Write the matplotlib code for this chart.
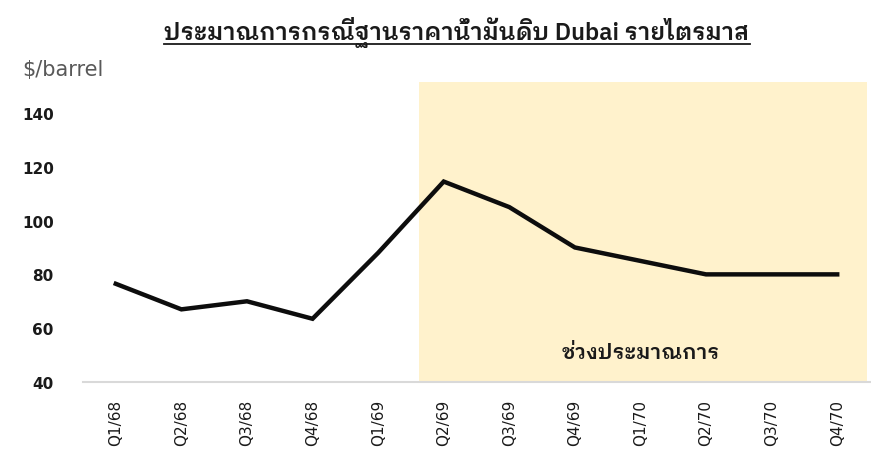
import matplotlib
matplotlib.use('Agg')
import matplotlib.pyplot as plt
from matplotlib import font_manager as fm
from matplotlib.lines import Line2D

quarters = ["Q1/68", "Q2/68", "Q3/68", "Q4/68", "Q1/69", "Q2/69",
            "Q3/69", "Q4/69", "Q1/70", "Q2/70", "Q3/70", "Q4/70"]
price = [76.5, 67, 70, 63.5, 88, 114.5, 105, 90, 85, 80, 80, 80]
yticks = [40, 60, 80, 100, 120, 140]
forecast_start = 4.63
forecast_end = 11.45
title = "ประมาณการกรณีฐานราคาน้ำมันดิบ Dubai รายไตรมาส"
unit_label = "$/barrel"
forecast_label = "ช่วงประมาณการ"

bold_fams = {f.name for f in fm.fontManager.ttflist
             if (isinstance(f.weight, int) and f.weight >= 600) or f.weight in ('bold', 'semibold')}
names = {f.name for f in fm.fontManager.ttflist}
thai = None
for cand in ["IBM Plex Sans Thai Looped", "Noto Sans Thai Looped", "Sarabun",
             "Noto Sans Thai", "IBM Plex Sans Thai"]:
    if cand in bold_fams:
        thai = cand
        break
if thai is None:
    for cand in ["IBM Plex Sans Thai Looped", "Noto Sans Thai Looped", "Sarabun", "Noto Sans Thai"]:
        if cand in names:
            thai = cand
            break
fam = ["DejaVu Sans"] + ([thai] if thai else [])
tfam = ([thai] if thai else []) + ["DejaVu Sans"]
plt.rcParams['font.family'] = fam

fig = plt.figure(figsize=(8.71, 4.77), dpi=100)
ax = fig.add_axes([83/871, 1-383/477, (870-83)/871, 300/477])
x = list(range(len(quarters)))
ax.set_xlim(-0.5, 11.5)
ax.set_ylim(40, 151.5)
ax.axvspan(forecast_start, forecast_end, color='#FFF2CC', zorder=0, lw=0)
ax.plot(x, price, color='#0d0d0d', lw=3.2, solid_joinstyle='miter', zorder=3)
for s in ['top', 'right', 'left']:
    ax.spines[s].set_visible(False)
ax.spines['bottom'].set_color('#d9d9d9')
ax.spines['bottom'].set_linewidth(1.5)
ax.set_yticks(yticks)
ax.set_yticklabels([str(v) for v in yticks], fontsize=11, fontweight='bold', color='#1a1a1a')
ax.set_xticks(x)
ax.set_xticklabels(quarters, rotation=90, fontsize=11, color='#1a1a1a')
ax.tick_params(axis='both', length=0)
ax.tick_params(axis='x', pad=12)
ax.tick_params(axis='y', pad=21)

ax.text(8.0, 51, forecast_label, ha='center', va='center', fontsize=15,
        fontweight='semibold', color='#1a1a1a', zorder=4, family=tfam)

fig.text(22/871, 1-70/477, unit_label, fontsize=15, color='#595959', va='center', ha='left')
t = fig.text(457/871, 1-33/477, title, fontsize=17, fontweight='semibold', color='#1a1a1a',
             ha='center', va='center', family=tfam)
fig.canvas.draw()
bb = t.get_window_extent()
x0, x1 = bb.x0 / fig.bbox.width, bb.x1 / fig.bbox.width
yl = 1 - 45/477
fig.add_artist(Line2D([x0, x1], [yl, yl], transform=fig.transFigure, color='#1a1a1a', lw=1.3))
fig.savefig('out.png', dpi=100)
